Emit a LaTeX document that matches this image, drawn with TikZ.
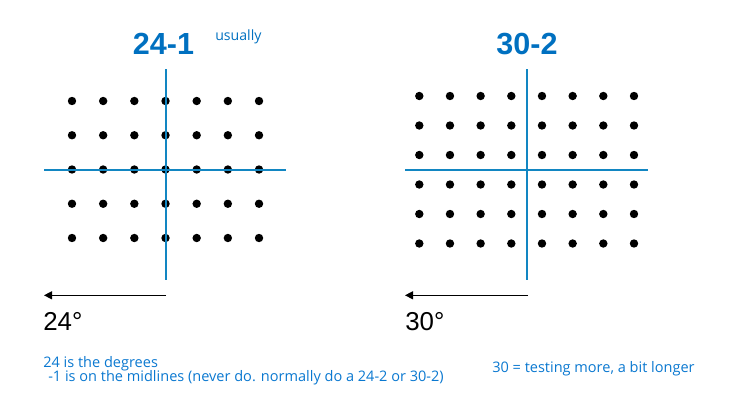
\documentclass[tikz,border=0pt]{standalone}
\usepackage{fontspec}
\setmainfont{Liberation Sans}
\newfontfamily\notefont{Open Sans}
\usetikzlibrary{arrows.meta}
\definecolor{titleBlue}{HTML}{0070C0}
\definecolor{midBlue}{HTML}{1286C2}
\definecolor{noteBlue}{HTML}{0A78D0}

\begin{document}
\begin{tikzpicture}[
  x=0.75pt, y=-0.75pt,
  %% Node styles
  dot/.style={circle, fill=black, minimum size=6.3pt, inner sep=0pt},
  gridtitle/.style={anchor=base, text=titleBlue,
                    font=\bfseries\fontsize{22.9}{24}\selectfont},
  degree/.style={anchor=base west, font=\fontsize{19.4}{22}\selectfont},
  note/.style={anchor=base west, text=noteBlue, inner sep=0pt,
               font=\notefont\fontsize{10.9}{12}\selectfont},
  %% Line styles
  midline/.style={draw=midBlue, line width=1.5pt},
  sweep/.style={-{Triangle[length=6pt,width=6pt]}, line width=1pt},
]
\useasboundingbox (0,0) rectangle (735,404);

%% ── 24-1 grid (7 x 5) ──────────────────────────────────────────────────────
\foreach \c in {0,...,6}
  \foreach \r in {0,...,4}
    \node[dot] (L-\c-\r) at ({72+31.17*\c},{101+34.25*\r}) {};

\coordinate (Ltop)   at (165.5,69);
\coordinate (Lbot)   at (165.5,280);
\coordinate (Lleft)  at (44,170);
\coordinate (Lright) at (286,170);
\draw[midline] (Ltop)  -- (Lbot);
\draw[midline] (Lleft) -- (Lright);

\node[gridtitle] (Ltitle) at (163.5,54) {24-1};
\node[anchor=base west, text=titleBlue, inner sep=0pt,
      font=\notefont\fontsize{10.6}{12}\selectfont] (usual) at (215,40.5) {usually};

%% ── 30-2 grid (8 x 6) ──────────────────────────────────────────────────────
\foreach \c in {0,...,7}
  \foreach \r in {0,...,5}
    \node[dot] (R-\c-\r) at ({419.3+30.67*\c},{96+29.5*\r}) {};

\coordinate (Rtop)   at (527,69);
\coordinate (Rbot)   at (527,280);
\coordinate (Rleft)  at (405,170);
\coordinate (Rright) at (648,170);
\draw[midline] (Rtop)  -- (Rbot);
\draw[midline] (Rleft) -- (Rright);

\node[gridtitle] (Rtitle) at (527,54) {30-2};

%% ── Sweep arrows and degrees ───────────────────────────────────────────────
\coordinate (Larr0) at (166,295.3);
\coordinate (Larr1) at (44,295.3);
\draw[sweep] (Larr0) -- (Larr1);
\node[degree, inner sep=0pt] (Ldeg) at (43,330.5) {24°};

\coordinate (Rarr0) at (528,295.3);
\coordinate (Rarr1) at (405,295.3);
\draw[sweep] (Rarr0) -- (Rarr1);
\node[degree, inner sep=0pt] (Rdeg) at (405,330.5) {30°};

%% ── Notes ──────────────────────────────────────────────────────────────────
\node[note] (lnote)  at (43,367.7) {24 is the degrees};
\node[note] (lnote2) at (48,381.7) {-1 is on the midlines (never do. normally do a 24-2 or 30-2)};
\node[note] (rnote)  at (492,372.7) {30 = testing more, a bit longer};

\end{tikzpicture}
\end{document}
